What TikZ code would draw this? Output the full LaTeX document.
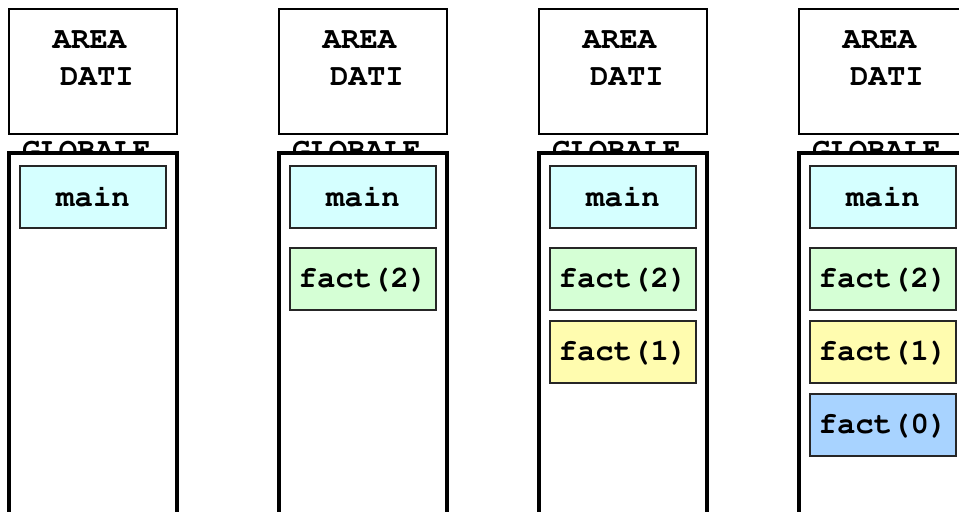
\documentclass[tikz,border=0pt]{standalone}
\usepackage{fontspec}
\setmonofont{Liberation Mono}
\definecolor{mainc}{HTML}{D5FFFF}
\definecolor{ftwo}{HTML}{D5FFD5}
\definecolor{fone}{HTML}{FFFCAF}
\definecolor{fzero}{HTML}{A8D3FF}
\newcommand{\cour}{\fontencoding{T1}\fontfamily{pcr}\fontseries{b}\fontsize{23}{23}\selectfont}
\begin{document}
\begin{tikzpicture}[x=0.75pt,y=-0.75pt,
  lbl/.style={font=\cour, inner sep=0pt},
  areabox/.style={draw=black, line width=1.1pt, fill=white, minimum width=126pt, minimum height=93.75pt, inner sep=0pt, outer sep=0pt},
  stackbox/.style={draw=black, line width=3pt, fill=white, minimum width=126pt, minimum height=285pt, inner sep=0pt, outer sep=0pt},
  rec/.style={draw=black!85, line width=1.5pt, minimum width=109.5pt, minimum height=46.5pt, inner sep=0pt, outer sep=0pt, font=\cour}]
\clip (0,0) rectangle (959,511);
\foreach \c [count=\i] in {9,279,539,799} {
  \node[areabox, anchor=north west] (area\i) at (\c,9) {};
  \node[lbl, anchor=base] (areat\i) at (\c+80.5,48) {AREA};
  \node[lbl, anchor=base] (dati\i) at (\c+88,85) {DATI};
  \node[lbl, anchor=base] (glob\i) at (\c+77.5,159) {GLOBALE};
  \node[stackbox, anchor=north west] (stack\i) at (\c,153) {};
  \node[rec, fill=mainc, anchor=north west] (main\i) at (\c+11,166) {main};
}
\node[rec, fill=ftwo, anchor=north west] (f2b) at (290,248) {fact(2)};
\node[rec, fill=ftwo, anchor=north west] (f2c) at (550,248) {fact(2)};
\node[rec, fill=fone, anchor=north west] (f1c) at (550,321) {fact(1)};
\node[rec, fill=ftwo, anchor=north west] (f2d) at (810,248) {fact(2)};
\node[rec, fill=fone, anchor=north west] (f1d) at (810,321) {fact(1)};
\node[rec, fill=fzero, anchor=north west] (f0d) at (810,394) {fact(0)};
\end{tikzpicture}
\end{document}
